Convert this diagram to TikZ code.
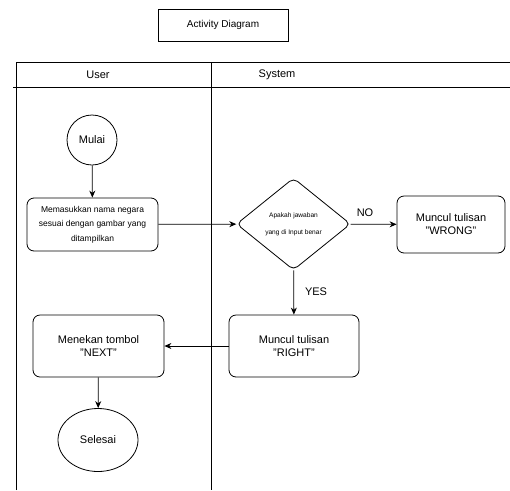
\documentclass[tikz,border=0pt]{standalone}
\usepackage{fontspec}
\setmainfont{Liberation Sans}
\usetikzlibrary{shapes.geometric,arrows.meta}
\begin{document}
\begin{tikzpicture}
[x=1pt,y=-1pt,
  actdecorate/.style={shape=rectangle,rounded corners=7pt,draw,thick,align=center,font=\fontsize{11}{13}\selectfont},
  enddecorate/.style={shape=ellipse,draw,thick,font=\fontsize{11}{13}\selectfont},
  linedecorate/.style={-{Stealth[length=7pt,width=6pt]},thick},
  lanedecorate/.style={thick}]
\useasboundingbox (0,0) rectangle (510,490);
%% title
\node (title) [draw,thick,minimum width=130pt,minimum height=32pt,font=\fontsize{10}{12}\selectfont] at (223,25) {Activity Diagram};
%% swimlanes
\coordinate (tl) at (16,62);
\coordinate (tm) at (211,62);
\coordinate (tr) at (510,62);
\coordinate (bl) at (16,490);
\coordinate (bm) at (211,490);
\coordinate (hl) at (13,87);
\coordinate (hr) at (510,87);
\draw[lanedecorate] (bl) -- (tl) -- (tr);
\draw[lanedecorate] (tm) -- (bm);
\draw[lanedecorate] (hl) -- (hr);
\node (user) at (98,75) [font=\fontsize{11}{13}\selectfont] {User};
\node (system) at (277,75) [font=\fontsize{11}{13}\selectfont] {System};
%% nodes or vertices
\node (mulai) at (92,140) [enddecorate,minimum width=50pt,minimum height=50pt] {Mulai};
\node (masuk) at (92.5,224.5) [actdecorate,minimum width=131pt,minimum height=53pt,inner sep=1pt,font=\fontsize{8.5}{14.5}\selectfont] {Memasukkan nama negara\\sesuai dengan gambar yang\\ditampilkan};
\node (cek) at (293.5,224) [shape=diamond,draw,thick,rounded corners=5pt,minimum width=114pt,minimum height=92pt,inner sep=0pt,align=center,font=\fontsize{6.6}{17}\selectfont] {Apakah jawaban\\yang di Input benar};
\node (wrong) at (451,224.5) [actdecorate,minimum width=108pt,minimum height=57pt] {Muncul tulisan\\"WRONG"};
\node (right) at (294,346) [actdecorate,minimum width=130pt,minimum height=62pt] {Muncul tulisan\\"RIGHT"};
\node (next) at (98.5,346) [actdecorate,minimum width=131pt,minimum height=62pt] {Menekan tombol\\"NEXT"};
\node (selesai) at (98,440) [enddecorate,minimum width=80pt,minimum height=63pt] {Selesai};
%% edges or lines
\foreach \startnode/\endnode in {mulai/masuk, masuk/cek, cek/wrong, cek/right, right/next, next/selesai} {
  \draw[linedecorate] (\startnode) -- (\endnode);
}
\node (no) at (365,213) [font=\fontsize{11}{13}\selectfont] {NO};
\node (yes) at (316,292) [font=\fontsize{11}{13}\selectfont] {YES};
\end{tikzpicture}
\end{document}
